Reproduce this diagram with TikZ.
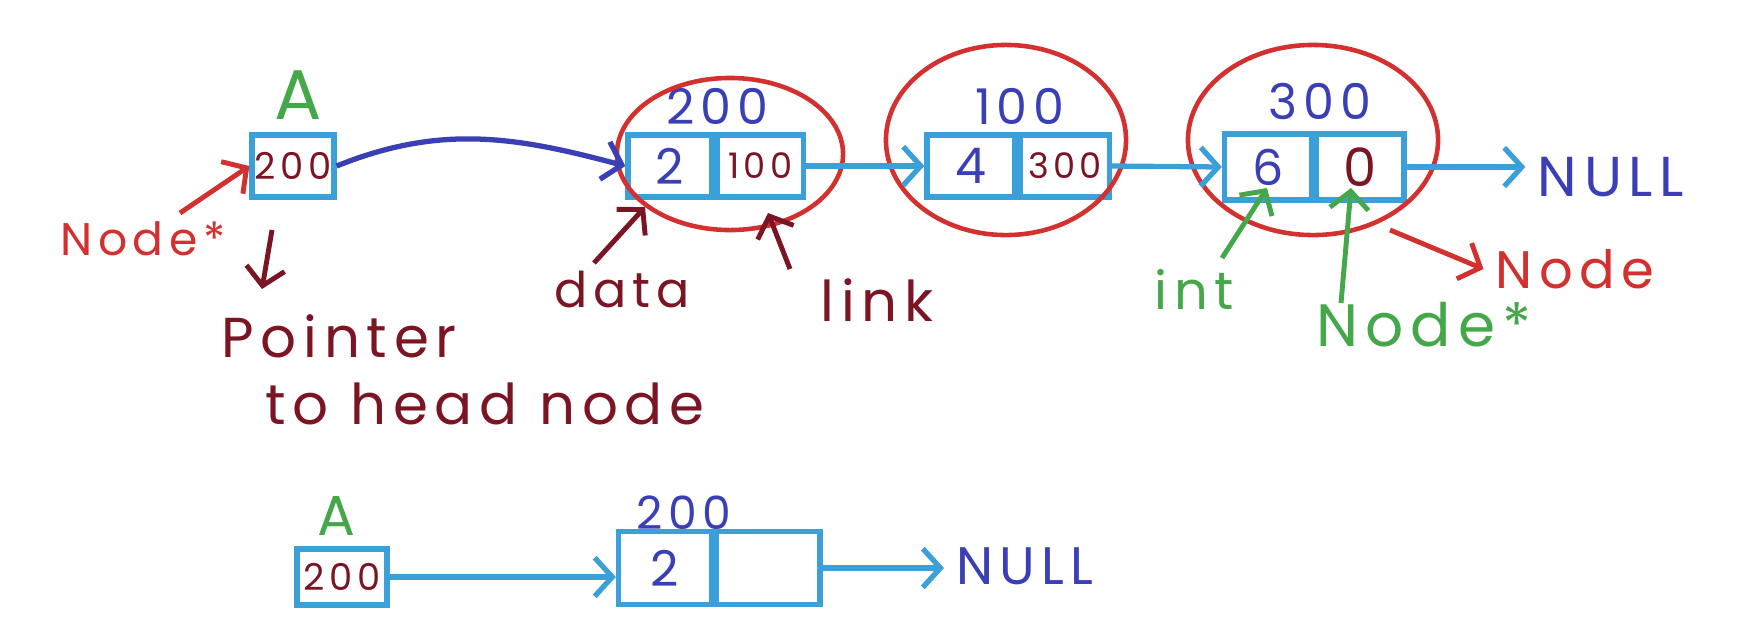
\documentclass[tikz,border=0pt]{standalone}
\usepackage{fontspec}
\setmainfont{Poppins}
\newfontfamily\hand[LetterSpace=12]{Poppins}
\usetikzlibrary{arrows.meta,positioning,shapes.geometric}
\definecolor{llcyan}{HTML}{3B9FD9}
\definecolor{llblue}{HTML}{3A3FB5}
\definecolor{llred}{HTML}{D2312F}
\definecolor{llmaroon}{HTML}{7B1524}
\definecolor{llgreen}{HTML}{44A84A}
\tikzset{>={Straight Barb[length=5pt,width=11pt]}}

\begin{document}
\begin{tikzpicture}[x=0.01cm,y=0.01cm,
    cell/.style={draw=llcyan,line width=1.5pt,inner sep=0pt,minimum height=0.62cm},
    blob/.style={draw=llred,line width=1.3pt,ellipse,inner sep=0pt},
    llink/.style={draw=llcyan,line width=1.5pt,->},
    note/.style={line width=1.4pt,->}]
  \useasboundingbox (0,0) rectangle (1758,626);

  % head pointer A
  \node[cell,minimum width=0.82cm,font=\hand\fontsize{10.5}{10.5}\selectfont\color{llmaroon}] (ptrA) at (293,460) {200};
  \node[font=\hand\fontsize{20}{20}\selectfont\color{llgreen}] (labA) at (298,531) {A};
  \node[font=\hand\fontsize{13}{13}\selectfont\color{llred}] (ptrType) at (143,387) {Node*};
  \node[font=\hand\fontsize{16}{16}\selectfont\color{llmaroon}] (ptrTxt1) at (339,290) {Pointer};
  \node[font=\hand\fontsize{16}{16}\selectfont\color{llmaroon}] (ptrTxt2) at (485,222) {to head node};

  % the three nodes
  \node[cell,minimum width=0.84cm,font=\hand\fontsize{14}{14}\selectfont\color{llblue}] (n1d) at (670,460) {2};
  \node[cell,minimum width=0.86cm,right=0pt of n1d,font=\hand\fontsize{10}{10}\selectfont\color{llmaroon}] (n1l) {100};
  \node[cell,minimum width=0.88cm,font=\hand\fontsize{14}{14}\selectfont\color{llblue}] (n2d) at (971,460) {4};
  \node[cell,minimum width=0.89cm,right=0pt of n2d,font=\hand\fontsize{10}{10}\selectfont\color{llmaroon}] (n2l) {300};
  \node[cell,minimum width=0.87cm,minimum height=0.66cm,font=\hand\fontsize{14}{14}\selectfont\color{llblue}] (n3d) at (1268,459) {6};
  \node[cell,minimum width=0.87cm,minimum height=0.66cm,right=0pt of n3d,font=\hand\fontsize{15}{15}\selectfont\color{llmaroon}] (n3l) {0};
  \node[font=\hand\fontsize{16}{16}\selectfont\color{llblue}] (null1) at (1611,449) {NULL};

  \node[font=\hand\fontsize{14}{14}\selectfont\color{llblue}] (addr1) at (717,520) {200};
  \node[font=\hand\fontsize{14}{14}\selectfont\color{llblue}] (addr2) at (1020,520) {100};
  \node[font=\hand\fontsize{14}{14}\selectfont\color{llblue}] (addr3) at (1320,525) {300};

  \node[blob,minimum width=2.26cm,minimum height=1.52cm] (c1) at (730,472) {};
  \node[blob,minimum width=2.40cm,minimum height=1.90cm] (c2) at (1006,486) {};
  \node[blob,minimum width=2.50cm,minimum height=1.90cm] (c3) at (1313,486) {};

  \draw[draw=llblue,line width=1.5pt,->] (ptrA.east) to[out=22,in=165] (n1d.west);
  \draw[llink] (n1l.east) -- (n2d.west);
  \draw[llink] (n2l.east) -- (n3d.west);
  \draw[llink] (n3l.east) -- (n3l.east -| null1.west);

  % annotations
  \node[font=\hand\fontsize{14}{14}\selectfont\color{llmaroon}] (dataTxt) at (622,337) {data};
  \node[font=\hand\fontsize{16}{16}\selectfont\color{llmaroon}] (linkTxt) at (877,326) {link};
  \node[font=\hand\fontsize{15}{15}\selectfont\color{llgreen}] (intTxt) at (1194,337) {int};
  \node[font=\hand\fontsize{17}{17}\selectfont\color{llgreen}] (nextTxt) at (1424,301) {Node*};
  \node[font=\hand\fontsize{15}{15}\selectfont\color{llred}] (nodeTxt) at (1575,357) {Node};

  \coordinate (ptrTail) at (180,413);
  \coordinate (downTail) at (272,396);
  \coordinate (downTip) at (262,337);
  \coordinate (dataTail) at (594,363);
  \coordinate (dataTip) at (645,419);
  \coordinate (linkTail) at (790,357);
  \coordinate (linkTip) at (768,413);
  \coordinate (intTail) at (1222,368);
  \coordinate (intTip) at (1267,438);
  \coordinate (nextTail) at (1341,323);
  \coordinate (nextTip) at (1351,438);
  \coordinate (nodeTail) at (1390,396);

  \draw[note,llred] (ptrTail) -- (ptrA.west);
  \draw[note,llmaroon] (downTail) -- (downTip);
  \draw[note,llmaroon] (dataTail) -- (dataTip);
  \draw[note,llmaroon] (linkTail) -- (linkTip);
  \draw[note,llgreen] (intTail) -- (intTip);
  \draw[note,llgreen] (nextTail) -- (nextTip);
  \draw[note,llred] (nodeTail) -- (nodeTxt.west);

  % second example: one node
  \node[cell,minimum width=0.90cm,minimum height=0.56cm,font=\hand\fontsize{10.5}{10.5}\selectfont\color{llmaroon}] (ptrB) at (342,49) {200};
  \node[font=\hand\fontsize{16}{16}\selectfont\color{llgreen}] (labB) at (336,110) {A};
  \node[cell,minimum width=0.93cm,minimum height=0.73cm,font=\hand\fontsize{14}{14}\selectfont\color{llblue}] (bd) at (665,58) {2};
  \node[cell,minimum width=1.03cm,minimum height=0.73cm,right=0pt of bd] (bl) {};
  \node[font=\hand\fontsize{13}{13}\selectfont\color{llblue}] (addrB) at (684,113) {200};
  \node[font=\hand\fontsize{15}{15}\selectfont\color{llblue}] (null2) at (1025,60) {NULL};

  \draw[llink] (ptrB.east) -- (ptrB.east -| bd.west);
  \draw[llink] (bl.east) -- (bl.east -| null2.west);
\end{tikzpicture}
\end{document}
